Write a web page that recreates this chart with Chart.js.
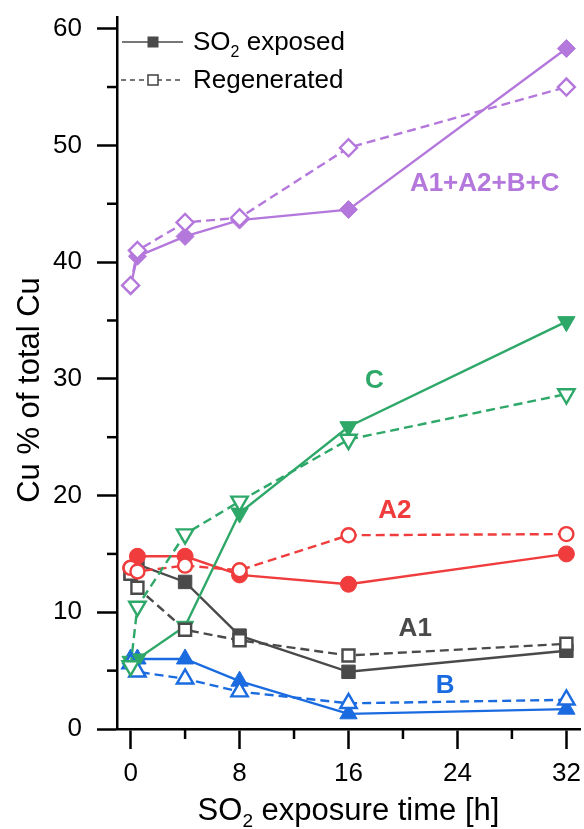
<!DOCTYPE html>
<html>
<head>
<meta charset="utf-8">
<script src="https://cdn.jsdelivr.net/npm/chart.js@4.4.1/dist/chart.umd.min.js"></script>
<style>
  html, body { margin: 0; padding: 0; background: #fff; }
</style>
</head>
<body>
<canvas id="chart" width="584" height="829"></canvas>
<script>
// exposure times [h]
const hours = [0, 0.5, 4, 8, 16, 32];

// Cu % of total Cu, SO2 exposed (solid, filled) vs regenerated (dashed, open)
const totalExposed = [38.0, 40.5, 42.2, 43.6, 44.5, 58.3];
const totalRegen   = [38.0, 41.0, 43.4, 43.8, 49.8, 55.0];
const cExposed     = [5.8, 6.0, 8.8, 18.5, 25.9, 34.9];
const cRegen       = [5.4, 10.5, 16.7, 19.5, 24.8, 28.7];
const a2Exposed    = [13.8, 14.8, 14.8, 13.2, 12.4, 15.0];
const a2Regen      = [13.8, 13.5, 14.0, 13.6, 16.6, 16.7];
const a1Exposed    = [13.3, 14.1, 12.6, 8.0, 4.9, 6.7];
const a1Regen      = [13.3, 12.1, 8.5, 7.6, 6.3, 7.3];
const bExposed     = [6.0, 6.0, 6.0, 4.1, 1.3, 1.7];
const bRegen       = [5.6, 4.9, 4.3, 3.2, 2.2, 2.5];

const xTicks = [0, 4, 8, 12, 16, 20, 24, 28, 32];
const yTicks = [0, 5, 10, 15, 20, 25, 30, 35, 40, 45, 50, 55, 60];

const PURPLE = '#b478dc', GREEN = '#2ea868', RED = '#f03c3c', BLUE = '#1a6be0', GRAY = '#4a4a4a';
const FONT = '"Liberation Sans", Arial, sans-serif';

// group labels drawn inside the plot (data coordinates)
const groupLabels = [
  { text: 'A1+A2+B+C', x: 26.0, y: 46.7, color: PURPLE },
  { text: 'C', x: 17.9, y: 29.8, color: GREEN },
  { text: 'A2', x: 19.4, y: 18.7, color: RED },
  { text: 'A1', x: 20.9, y: 8.6, color: GRAY },
  { text: 'B', x: 23.1, y: 3.7, color: BLUE }
];

function series(label, values, color, style, radius, open, rotation) {
  return {
    label: label,
    data: hours.map((h, i) => ({ x: h, y: values[i] })),
    borderColor: color,
    borderWidth: 2.4,
    borderDash: open ? [9, 5] : [],
    pointStyle: style,
    pointRotation: rotation || 0,
    pointRadius: radius,
    pointBorderWidth: open ? 2.4 : 1,
    pointBorderColor: color,
    pointBackgroundColor: open ? '#fff' : color,
    tension: 0,
    fill: false
  };
}

// regenerated first so the open markers sit on top
const datasets = [
  series('Total regen', totalRegen, PURPLE, 'rectRot', 8.5, true),
  series('C regen', cRegen, GREEN, 'triangle', 9.5, true, 180),
  series('A2 regen', a2Regen, RED, 'circle', 7, true),
  series('A1 regen', a1Regen, GRAY, 'rect', 8.5, true),
  series('B regen', bRegen, BLUE, 'triangle', 9.5, true),
  series('Total exposed', totalExposed, PURPLE, 'rectRot', 9, false),
  series('C exposed', cExposed, GREEN, 'triangle', 10, false, 180),
  series('A2 exposed', a2Exposed, RED, 'circle', 8, false),
  series('A1 exposed', a1Exposed, GRAY, 'rect', 9.5, false),
  series('B exposed', bExposed, BLUE, 'triangle', 10, false)
];

// text with a subscript part: parts = [[text, sizeFactor, dy]]
function drawParts(ctx, parts, size, weight, x, y, align) {
  let total = 0;
  parts.forEach(p => {
    ctx.font = weight + ' ' + Math.round(size * p[1]) + 'px ' + FONT;
    total += ctx.measureText(p[0]).width;
  });
  let cx = align === 'center' ? x - total / 2 : x;
  ctx.textAlign = 'left';
  parts.forEach(p => {
    ctx.font = weight + ' ' + Math.round(size * p[1]) + 'px ' + FONT;
    ctx.fillText(p[0], cx, y + p[2]);
    cx += ctx.measureText(p[0]).width;
  });
}

const extras = {
  id: 'extras',
  afterDraw(chart) {
    const { ctx, chartArea, scales } = chart;
    const x = scales.x, y = scales.y;
    ctx.save();

    // minor ticks
    ctx.strokeStyle = '#000';
    ctx.lineWidth = 2.5;
    xTicks.filter(v => v % 8 !== 0).forEach(v => {
      const px = x.getPixelForValue(v);
      ctx.beginPath();
      ctx.moveTo(px, chartArea.bottom);
      ctx.lineTo(px, chartArea.bottom + 10);
      ctx.stroke();
    });
    yTicks.filter(v => v % 10 !== 0).forEach(v => {
      const py = y.getPixelForValue(v);
      ctx.beginPath();
      ctx.moveTo(chartArea.left, py);
      ctx.lineTo(chartArea.left - 10, py);
      ctx.stroke();
    });

    // group labels
    ctx.textAlign = 'center';
    ctx.textBaseline = 'middle';
    ctx.font = 'bold 26px ' + FONT;
    groupLabels.forEach(l => {
      ctx.fillStyle = l.color;
      ctx.fillText(l.text, x.getPixelForValue(l.x), y.getPixelForValue(l.y));
    });

    // axis titles
    ctx.fillStyle = '#000';
    ctx.textBaseline = 'alphabetic';
    drawParts(ctx, [['SO', 1, 0], ['2', 0.62, 7], [' exposure time [h]', 1, 0]], 31, 'normal',
      (chartArea.left + chartArea.right) / 2, 820, 'center');
    ctx.save();
    ctx.translate(39, 390);
    ctx.rotate(-Math.PI / 2);
    ctx.font = '31px ' + FONT;
    ctx.textAlign = 'center';
    ctx.fillText('Cu % of total Cu', 0, 0);
    ctx.restore();

    // legend
    ctx.strokeStyle = GRAY;
    ctx.lineWidth = 1.6;
    ctx.beginPath();
    ctx.moveTo(122, 42); ctx.lineTo(183, 42);
    ctx.stroke();
    ctx.fillStyle = GRAY;
    ctx.fillRect(147.5, 36.5, 11, 11);
    ctx.setLineDash([5, 4]);
    ctx.beginPath();
    ctx.moveTo(121, 80); ctx.lineTo(183, 80);
    ctx.stroke();
    ctx.setLineDash([]);
    ctx.fillStyle = '#fff';
    ctx.fillRect(148, 75, 10, 10);
    ctx.strokeRect(148, 75, 10, 10);
    ctx.fillStyle = '#000';
    drawParts(ctx, [['SO', 1, 0], ['2', 0.62, 7], [' exposed', 1, 0]], 26, 'normal', 193, 50, 'left');
    drawParts(ctx, [['Regenerated', 1, 0]], 26, 'normal', 193, 88, 'left');

    ctx.restore();
  }
};

new Chart(document.getElementById('chart').getContext('2d'), {
  type: 'line',
  data: { datasets: datasets },
  options: {
    responsive: false,
    devicePixelRatio: 1,
    animation: false,
    layout: { autoPadding: false, padding: { top: 17, right: 4, left: 0, bottom: 0 } },
    plugins: { legend: { display: false }, tooltip: { enabled: false } },
    scales: {
      x: {
        type: 'linear',
        min: -1,
        max: 33,
        afterBuildTicks: s => { s.ticks = xTicks.map(v => ({ value: v })); },
        afterFit: s => { s.height = 100; s.paddingLeft = 0; s.paddingRight = 0; },
        ticks: {
          autoSkip: false,
          maxRotation: 0,
          padding: 9,
          color: '#000',
          font: { family: FONT, size: 26 },
          callback: v => (v % 8 === 0 ? String(v) : '')
        },
        grid: {
          drawOnChartArea: false,
          tickLength: 20,
          tickWidth: 2.5,
          tickColor: c => (c.tick && c.tick.value % 8 === 0 ? '#000' : 'rgba(0,0,0,0)')
        },
        border: { display: true, color: '#000', width: 2.5 }
      },
      y: {
        type: 'linear',
        min: 0,
        max: 61,
        afterBuildTicks: s => { s.ticks = yTicks.map(v => ({ value: v })); },
        afterFit: s => { s.width = 117; s.paddingTop = 0; s.paddingBottom = 0; },
        ticks: {
          autoSkip: false,
          padding: 15,
          color: '#000',
          font: { family: FONT, size: 26 },
          callback: v => (v % 10 === 0 ? String(v) : '')
        },
        grid: {
          drawOnChartArea: false,
          tickLength: 20,
          tickWidth: 2.5,
          tickColor: c => (c.tick && c.tick.value % 10 === 0 ? '#000' : 'rgba(0,0,0,0)')
        },
        border: { display: true, color: '#000', width: 2.5 }
      }
    }
  },
  plugins: [extras]
});
</script>
</body>
</html>
